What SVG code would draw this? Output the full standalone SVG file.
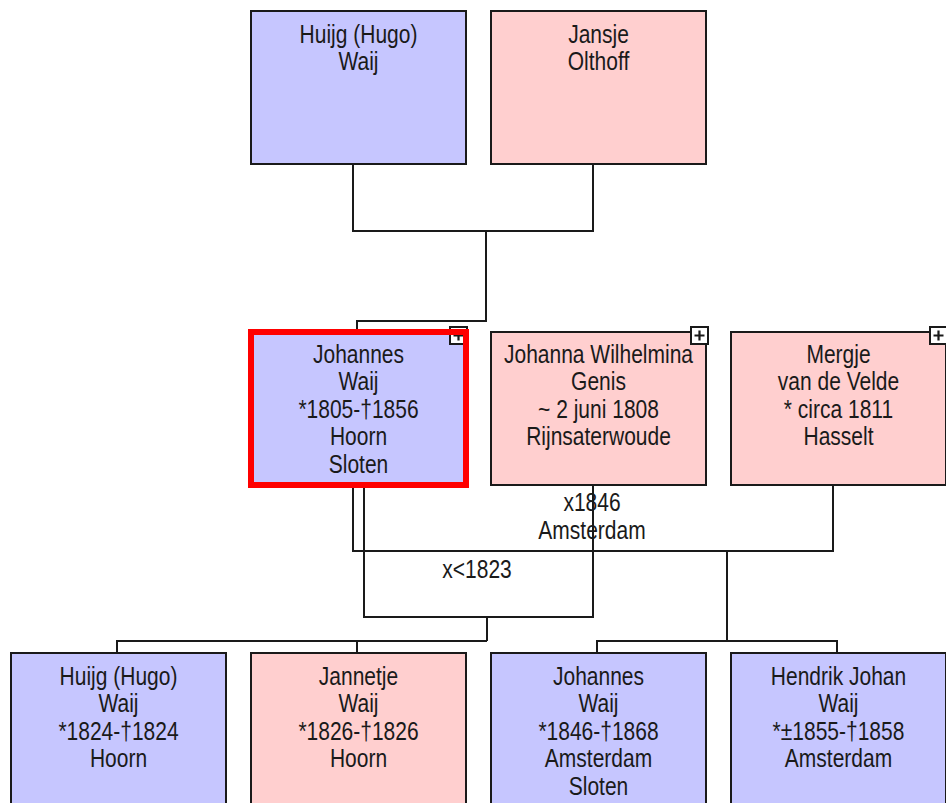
<svg xmlns="http://www.w3.org/2000/svg" width="946" height="803" viewBox="0 0 946 803">
<style>
.bg{fill:#ffffff}
.m{fill:#c6c6ff;stroke:#1a1a1a;stroke-width:2}
.f{fill:#ffcfcf;stroke:#1a1a1a;stroke-width:2}
.sel{fill:none;stroke:#ff0000;stroke-width:6}
.con{fill:none;stroke:#1a1a1a;stroke-width:2}
.t{font-family:"Liberation Sans",Arial,sans-serif;font-size:21px;fill:#1a1a1a;text-anchor:middle}
.pb{fill:#ffffff;stroke:#1a1a1a;stroke-width:2}
.pl{stroke:#1a1a1a;stroke-width:2.2}
</style>
<defs>
<g id="plus"><rect class="pb" x="0" y="0" width="17" height="17"/><path class="pl" d="M3.5 8.5H13.5M8.5 3.5V13.5"/></g>
</defs>
<rect class="bg" x="0" y="0" width="946" height="803"/>
<g id="connectors">
<path class="con" d="M353 164V231H593V164"/>
<path class="con" d="M486 231V321H357V332"/>
<path class="con" d="M364 485V617H593V485"/>
<path class="con" d="M487 617V641"/>
<path class="con" d="M117 653V641H487"/>
<path class="con" d="M357 641V653"/>
<path class="con" d="M353 485V551H833V485"/>
<path class="con" d="M727 551V641"/>
<path class="con" d="M597 653V641H837V653"/>
</g>
<g id="labels">
<g transform="translate(592,511) scale(1,1.2)"><text class="t"><tspan x="0" y="0">x1846</tspan><tspan x="0" dy="23.3">Amsterdam</tspan></text></g>
<g transform="translate(477,578) scale(1,1.2)"><text class="t" x="0" y="0">x&lt;1823</text></g>
</g>
<g id="n1">
<rect class="m" x="251" y="11" width="215" height="153"/>
<g transform="translate(358.5,43) scale(1,1.2)"><text class="t"><tspan x="0" y="0">Huijg (Hugo)</tspan><tspan x="0" dy="22.9">Waij</tspan></text></g>
</g>
<g id="n2">
<rect class="f" x="491" y="11" width="215" height="153"/>
<g transform="translate(598.5,43) scale(1,1.2)"><text class="t"><tspan x="0" y="0">Jansje</tspan><tspan x="0" dy="22.9">Olthoff</tspan></text></g>
</g>
<g id="n3">
<rect class="m" x="251" y="332" width="215" height="153"/>
<use href="#plus" x="450" y="327"/>
<rect class="sel" x="251" y="332" width="215" height="153"/>
<g transform="translate(358.5,363) scale(1,1.2)"><text class="t"><tspan x="0" y="0">Johannes</tspan><tspan x="0" dy="22.9">Waij</tspan><tspan x="0" dy="22.9">*1805-†1856</tspan><tspan x="0" dy="22.9">Hoorn</tspan><tspan x="0" dy="22.9">Sloten</tspan></text></g>
</g>
<g id="n4">
<rect class="f" x="491" y="332" width="215" height="153"/>
<use href="#plus" x="691" y="327"/>
<g transform="translate(598.5,363) scale(1,1.2)"><text class="t"><tspan x="0" y="0">Johanna Wilhelmina</tspan><tspan x="0" dy="22.9">Genis</tspan><tspan x="0" dy="22.9">~ 2 juni 1808</tspan><tspan x="0" dy="22.9">Rijnsaterwoude</tspan></text></g>
</g>
<g id="n5">
<rect class="f" x="731" y="332" width="215" height="153"/>
<use href="#plus" x="930" y="327"/>
<g transform="translate(838.5,363) scale(1,1.2)"><text class="t"><tspan x="0" y="0">Mergje</tspan><tspan x="0" dy="22.9">van de Velde</tspan><tspan x="0" dy="22.9">* circa 1811</tspan><tspan x="0" dy="22.9">Hasselt</tspan></text></g>
</g>
<g id="c1">
<rect class="m" x="11" y="653" width="215" height="153"/>
<g transform="translate(118.5,685) scale(1,1.2)"><text class="t"><tspan x="0" y="0">Huijg (Hugo)</tspan><tspan x="0" dy="22.9">Waij</tspan><tspan x="0" dy="22.9">*1824-†1824</tspan><tspan x="0" dy="22.9">Hoorn</tspan></text></g>
</g>
<g id="c2">
<rect class="f" x="251" y="653" width="215" height="153"/>
<g transform="translate(358.5,685) scale(1,1.2)"><text class="t"><tspan x="0" y="0">Jannetje</tspan><tspan x="0" dy="22.9">Waij</tspan><tspan x="0" dy="22.9">*1826-†1826</tspan><tspan x="0" dy="22.9">Hoorn</tspan></text></g>
</g>
<g id="c3">
<rect class="m" x="491" y="653" width="215" height="153"/>
<g transform="translate(598.5,685) scale(1,1.2)"><text class="t"><tspan x="0" y="0">Johannes</tspan><tspan x="0" dy="22.9">Waij</tspan><tspan x="0" dy="22.9">*1846-†1868</tspan><tspan x="0" dy="22.9">Amsterdam</tspan><tspan x="0" dy="22.9">Sloten</tspan></text></g>
</g>
<g id="c4">
<rect class="m" x="731" y="653" width="215" height="153"/>
<g transform="translate(838.5,685) scale(1,1.2)"><text class="t"><tspan x="0" y="0">Hendrik Johan</tspan><tspan x="0" dy="22.9">Waij</tspan><tspan x="0" dy="22.9">*±1855-†1858</tspan><tspan x="0" dy="22.9">Amsterdam</tspan></text></g>
</g>
</svg>
